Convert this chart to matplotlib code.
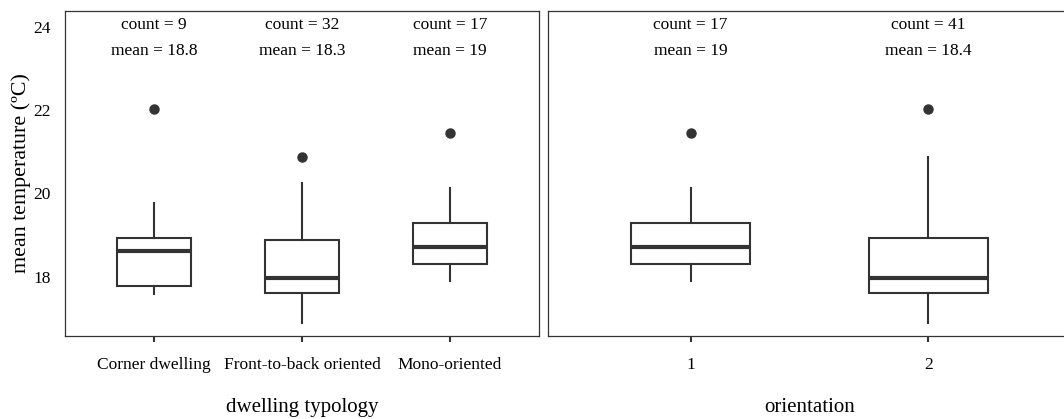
import numpy as np
from matplotlib import pyplot as plt

plt.rcParams['font.family'] = ['Liberation Serif', 'DejaVu Serif']

# left panel: dwelling typology
typology = ['Corner dwelling', 'Front-to-back oriented', 'Mono-oriented']
typ_count = [9, 32, 17]
typ_mean = ['18.8', '18.3', '19']
typ_whislo = [17.59, 16.90, 17.90]
typ_q1 = [17.78, 17.61, 18.31]
typ_med = [18.62, 17.98, 18.71]
typ_q3 = [18.94, 18.89, 19.28]
typ_whishi = [19.76, 20.24, 20.14]
typ_fliers = [[22.02], [20.87], [21.44]]

# right panel: orientation
orient = ['1', '2']
ori_count = [17, 41]
ori_mean = ['19', '18.4']
ori_whislo = [17.90, 16.90]
ori_q1 = [18.31, 17.61]
ori_med = [18.71, 17.98]
ori_q3 = [19.28, 18.94]
ori_whishi = [20.14, 20.87]
ori_fliers = [[21.44], [22.02]]

dark = '#333333'
fs = 12.5


def make_stats(lo, q1, med, q3, hi, fl):
    return [dict(whislo=a, q1=b, med=c, q3=d, whishi=e, fliers=f)
            for a, b, c, d, e, f in zip(lo, q1, med, q3, hi, fl)]


def draw(ax, names, stats, counts, means, xlabel):
    pos = np.arange(1, len(names) + 1)
    ax.bxp(stats, positions=pos, widths=0.5, showcaps=False, patch_artist=True,
           boxprops=dict(facecolor='white', edgecolor=dark, linewidth=1.5),
           whiskerprops=dict(color=dark, linewidth=1.5),
           medianprops=dict(color=dark, linewidth=3),
           flierprops=dict(marker='o', markerfacecolor=dark, markeredgecolor=dark,
                           markersize=6.5))
    for x, c, m in zip(pos, counts, means):
        ax.text(x, 24.04, 'count = %d' % c, ha='center', va='center', fontsize=fs)
        ax.text(x, 23.43, 'mean = %s' % m, ha='center', va='center', fontsize=fs)
    ax.set_xlim(0.4, len(names) + 0.6)
    ax.set_ylim(16.58, 24.38)
    ax.set_xticks(pos)
    ax.set_xticklabels(names, fontsize=fs)
    ax.set_yticks([18, 20, 22, 24])
    ax.tick_params(axis='x', length=4, width=1.5, color=dark, pad=11)
    ax.tick_params(axis='y', length=0, pad=10, labelsize=fs)
    for s in ax.spines.values():
        s.set_color(dark)
        s.set_linewidth(0.9)
    ax.set_xlabel(xlabel, fontsize=15, labelpad=18)


fig = plt.figure(figsize=(10.64, 4.19), dpi=100)
ax1 = fig.add_axes([65 / 1064, 83 / 419, 474 / 1064, 325 / 419])
ax2 = fig.add_axes([548 / 1064, 83 / 419, 523 / 1064, 325 / 419])

draw(ax1, typology, make_stats(typ_whislo, typ_q1, typ_med, typ_q3, typ_whishi, typ_fliers),
     typ_count, typ_mean, 'dwelling typology')
draw(ax2, orient, make_stats(ori_whislo, ori_q1, ori_med, ori_q3, ori_whishi, ori_fliers),
     ori_count, ori_mean, 'orientation')
ax2.set_yticklabels([])
ax1.set_ylabel('mean temperature (ºC)', fontsize=15.8, labelpad=2)

fig.savefig('out.png', dpi=100)
